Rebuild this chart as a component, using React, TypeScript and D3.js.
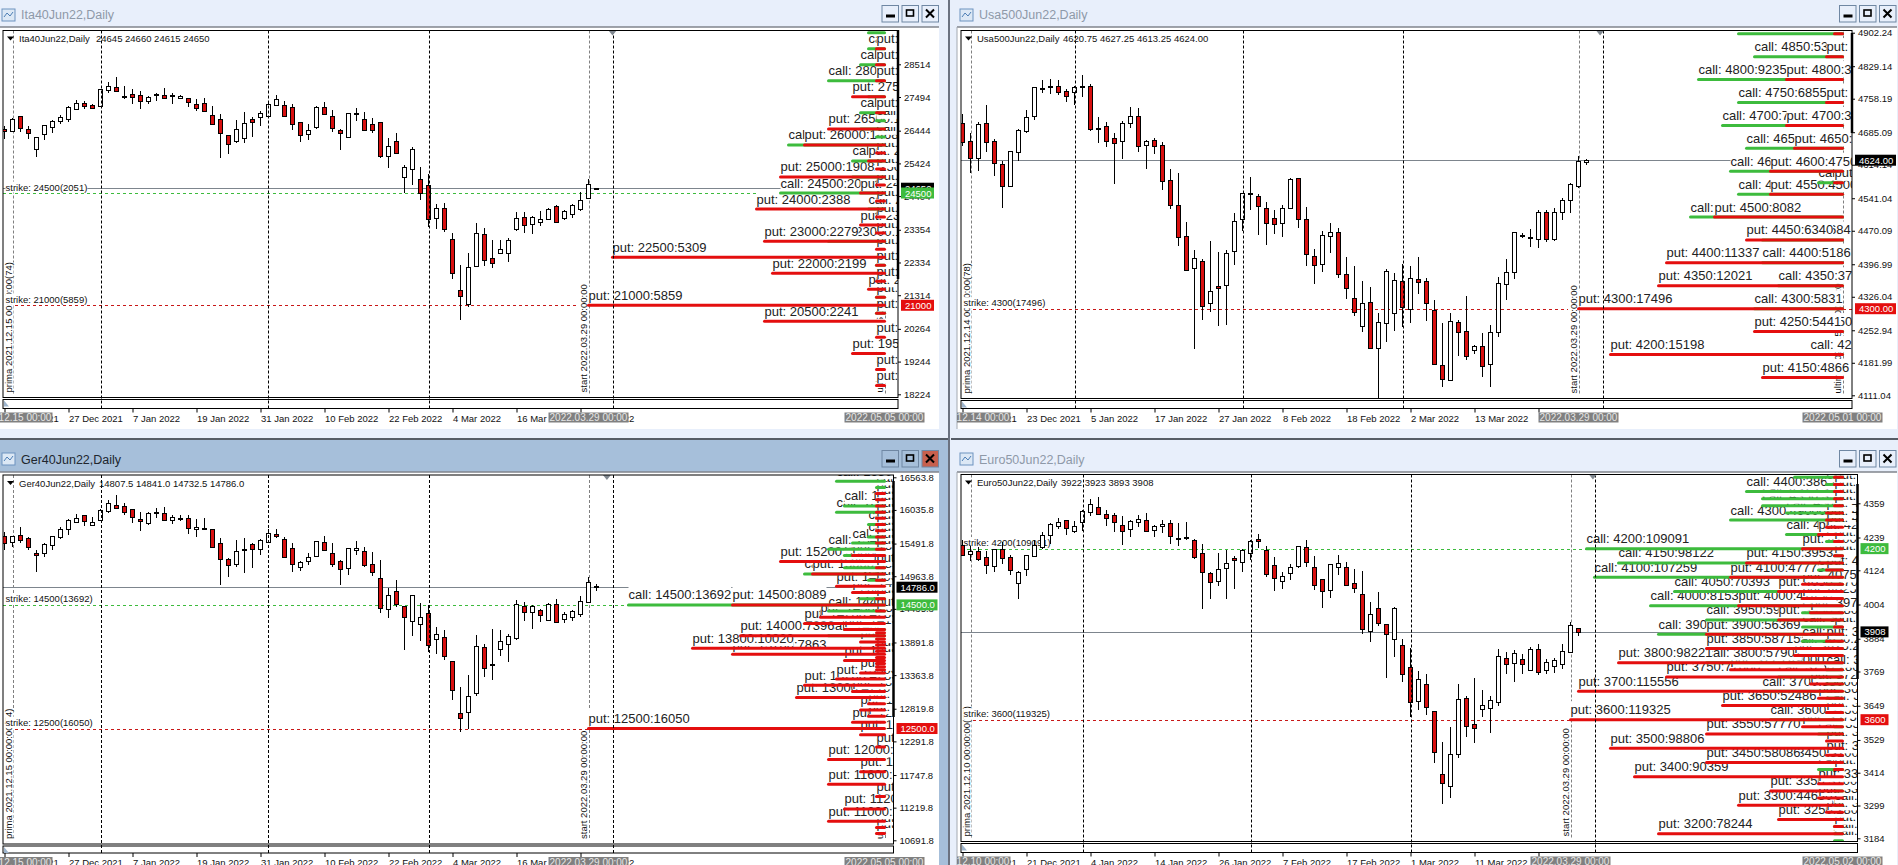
import { useEffect, useRef } from 'react';
import * as d3 from 'd3';

type Candle = [number, number, number, number]; // open, high, low, close
type OptionRow = [number, number, number, number, number]; // strike, call OI, call days, put OI, put days

const itaCandles: Candle[] = [
  [26487,26591,26196,26446],[26446,26830,26414,26799],[26893,26893,26414,26518],[26487,26591,26196,26383],[25884,26238,25635,26238],
  [26352,26633,26155,26612],[26570,26778,26383,26737],[26757,26934,26653,26861],[26820,27215,26716,27194],[27132,27402,27090,27298],
  [27298,27371,27121,27225],[27236,27288,27163,27163],[27225,27734,27225,27734],[27724,27953,27631,27849],[27797,28109,27662,27672],
  [27537,27838,27433,27530],[27599,27734,27277,27485],[27547,27672,27132,27381],[27381,27527,27277,27506],[27579,27610,27371,27589],
  [27547,27766,27475,27475],[27547,27610,27287,27540],[27475,27568,27454,27537],[27454,27475,27173,27350],[27267,27423,27069,27163],
  [27298,27464,27028,27069],[26944,27204,26633,26664],[26799,26965,25604,26383],[26300,26321,25728,26040],[26134,26778,26071,26487],
  [26207,27028,26071,26674],[26799,26872,26248,26726],[26861,27069,26591,26986],[26913,27298,26903,27267],[27256,27547,27236,27423],
  [27236,27360,26882,26913],[27173,27277,26477,26664],[26705,26726,26103,26300],[26331,26643,26155,26477],[26570,27204,26508,27194],
  [27173,27329,26934,26976],[26893,27090,26414,26518],[26456,26498,25843,26362],[26258,26986,26238,26986],[26975,27163,26747,26990],
  [26799,27028,26446,26477],[26643,26840,26383,26477],[26705,26726,25604,25666],[25645,26206,25292,25957],[26113,26373,25728,25760],
  [25011,25365,24491,25302],[25240,25936,24751,25864],[24928,25313,24284,24512],[24741,25094,23452,23702],[23733,24149,23379,24024],
  [24024,24190,23296,23390],[23057,23244,21831,22018],[21467,22257,20542,21280],[21051,22631,20958,22184],[22236,23556,22236,23244],
  [23213,23411,22226,22423],[22465,23036,22174,22309],[22641,23036,22600,22745],[22641,23099,22361,23045],[23390,23909,23317,23712],
  [23764,23909,23265,23494],[23525,23795,23234,23754],[23587,23941,23473,23681],[23681,24024,23660,23993],[24107,24117,23577,23608],
  [23733,23972,23660,23930],[23858,24159,23722,24117],[24013,24533,23951,24273],[24356,24928,24304,24772],[24645,24660,24615,24650],
];

const usaCandles: Candle[] = [
  [4704.4,4724.1,4655.7,4664.4],[4665.2,4682.6,4596.8,4629.5],[4629.5,4707.3,4600.4,4703],[4704.4,4744.4,4641.9,4664.4],[4665.2,4669.5,4589.5,4618.6],
  [4615,4621.5,4520.5,4568.4],[4567.7,4643.4,4566.3,4643.4],[4641.2,4691.3,4622.3,4689.2],[4688.4,4732.8,4684,4717.5],[4719.7,4784.4,4711.7,4783.7],
  [4780.8,4799,4771.3,4781.5],[4783.7,4800.4,4768.4,4785.2],[4785.2,4799,4766.3,4773.5],[4774.2,4778.6,4751.7,4764.8],[4772,4786.6,4744.4,4784.4],
  [4785,4809.9,4762.6,4785.2],[4785.9,4790.2,4687.7,4692.8],[4693.5,4717.5,4662.3,4693],[4697.9,4707.3,4653.5,4666.6],[4671.7,4682.6,4572.8,4662.3],
  [4665.2,4708.8,4626.6,4704.4],[4705.9,4739.3,4695,4719.7],[4719.7,4737.9,4641.9,4654.3],[4656.4,4667.4,4604.8,4665.2],[4667.4,4671.7,4638.3,4654.3],
  [4656.4,4663,4559,4577.9],[4580.1,4604.8,4518.3,4525.5],[4525.5,4595.4,4436.8,4455.7],[4457.9,4488.5,4383.7,4383.7],[4388.1,4427.4,4212.8,4409.9],
  [4403.4,4407.7,4275.4,4305.2],[4311.7,4447,4293.6,4338],[4348.8,4423.7,4263,4344.5],[4351,4427.4,4265.2,4420.8],[4425.2,4508.1,4395.4,4490.6],
  [4495,4553.2,4470.3,4551.7],[4551.7,4586.6,4515.4,4549.5],[4545.2,4549.5,4460.8,4523.4],[4519,4532.1,4439,4486.3],[4497.2,4515.4,4463,4484.1],
  [4486.3,4525.5,4456.5,4519],[4519,4584.5,4518.3,4582.3],[4584.5,4584.5,4476.1,4495],[4495,4521.2,4393.2,4418.6],[4414.3,4429.6,4353.9,4394.7],
  [4396.8,4469.5,4380.1,4460.1],[4457.9,4486.3,4421.5,4466.6],[4466.6,4475.4,4367.8,4375],[4375,4412.8,4321.2,4344.5],[4322.7,4393.2,4284.8,4292.1],
  [4261.6,4360.5,4250,4311.7],[4313.9,4347.4,4212.8,4215],[4215,4290.7,4104.5,4270.3],[4268.1,4385.9,4228.1,4381.6],[4290,4377.2,4252.1,4361.9],
  [4359.7,4396.8,4260.8,4303],[4298.7,4393.2,4268.8,4366.3],[4364.1,4412.8,4332.9,4357.5],[4359.7,4366.3,4273.2,4311.7],[4296.5,4319,4177.9,4178.7],
  [4177.9,4268.8,4129.2,4145.9],[4143.8,4290.7,4143,4272.5],[4270.3,4274.7,4197.6,4248.5],[4250.7,4327.7,4188.8,4197.6],[4209.2,4220.8,4201.9,4217.9],
  [4217.9,4247,4151,4175.8],[4178.7,4264.5,4129.2,4248.5],[4248.5,4369.2,4239,4355.4],[4353.2,4407.7,4319,4379.4],[4379.4,4466.6,4364.8,4466.6],
  [4457.9,4464.4,4454.3,4460.8],[4453.6,4473.9,4435,4456.5],[4451.4,4515.4,4432.5,4511],[4511,4515.4,4444.8,4451.4],[4451.4,4519,4447,4510.3],
  [4510.3,4540.8,4493.5,4537.2],[4536.5,4575,4509.5,4572.1],[4568.4,4633.2,4562.6,4621.5],[4620.75,4627.25,4613.25,4624],
];

const gerCandles: Candle[] = [
  [15609,15679,15394,15501],[15512,15609,15437,15609],[15625,15760,15507,15555],[15577,15593,15394,15442],[15334,15383,15032,15313],
  [15345,15501,15275,15491],[15464,15620,15388,15609],[15599,15766,15572,15723],[15723,15884,15636,15868],[15841,15971,15820,15911],
  [15949,15954,15776,15852],[15798,15922,15776,15836],[15868,16046,15852,16041],[16024,16192,15987,16143],[16111,16272,16057,16068],
  [16095,16143,15949,15998],[16046,16057,15830,15927],[15884,16003,15701,15852],[15830,16002,15798,15981],[15981,16068,15906,15998],
  [15981,16084,15863,15879],[15879,15949,15814,15917],[15911,15949,15863,15909],[15911,15949,15652,15749],[15723,15884,15604,15755],
  [15749,15906,15706,15747],[15723,15723,15426,15442],[15496,15582,14827,15248],[15237,15259,14957,15151],[15167,15555,15113,15367],
  [15383,15582,15022,15399],[15480,15501,15097,15410],[15410,15561,15307,15555],[15523,15723,15518,15658],[15652,15723,15577,15620],
  [15561,15593,15275,15280],[15415,15501,15038,15156],[15108,15205,15054,15189],[15216,15340,15151,15270],[15286,15534,15275,15528],
  [15512,15609,15367,15383],[15334,15501,15108,15167],[15205,15226,14827,15075],[15092,15426,14989,15415],[15383,15534,15313,15415],
  [15367,15437,15119,15151],[15156,15350,14973,15027],[14930,15226,14369,14445],[14428,14774,14288,14655],[14730,14898,14461,14509],
  [14477,14477,13771,14299],[14234,14655,14002,14655],[14186,14526,13916,14299],[14364,14493,13738,13857],[13943,14137,13701,14024],
  [13975,14094,13614,13668],[13598,13598,12962,13118],[12746,13167,12444,12665],[12762,13361,12487,13021],[13070,14008,13032,13830],
  [13814,13868,13334,13485],[13523,14110,13285,13539],[13781,14094,13674,13911],[13862,14029,13577,13992],[13970,14574,13938,14509],
  [14477,14542,14240,14380],[14380,14504,14116,14477],[14412,14428,14224,14331],[14250,14536,14234,14509],[14509,14590,14202,14218],
  [14267,14385,14202,14348],[14305,14423,14240,14396],[14348,14639,14310,14558],[14542,14946,14526,14865],[14807.5,14841,14732.5,14786],
];

const euroCandles: Candle[] = [
  [4212,4229,4174,4177],[4180,4208,4156,4191],[4191,4206,4156,4163],[4170,4191,4111,4144],[4138,4198,4118,4198],
  [4198,4223,4147,4166],[4170,4177,4109,4124],[4079,4121,4025,4117],[4128,4179,4104,4177],[4173,4229,4170,4212],
  [4206,4259,4200,4247],[4247,4291,4218,4288],[4281,4308,4268,4292],[4299,4302,4249,4271],[4263,4297,4256,4278],
  [4292,4334,4263,4331],[4327,4374,4313,4356],[4345,4381,4319,4320],[4320,4334,4280,4306],[4317,4324,4260,4292],
  [4282,4315,4214,4261],[4268,4299,4241,4296],[4292,4317,4275,4303],[4299,4325,4257,4261],[4264,4282,4241,4278],
  [4278,4299,4255,4285],[4289,4299,4218,4243],[4236,4290,4209,4235],[4242,4294,4229,4240],[4229,4233,4165,4169],
  [4184,4216,3990,4117],[4114,4117,4025,4082],[4086,4185,4068,4128],[4131,4194,4025,4149],[4166,4174,4060,4159],
  [4152,4198,4118,4194],[4184,4229,4159,4226],[4233,4250,4202,4226],[4194,4208,4101,4110],[4142,4171,4053,4096],
  [4086,4118,4060,4103],[4114,4145,4090,4135],[4138,4208,4133,4208],[4205,4230,4137,4152],[4135,4173,4056,4071],
  [4093,4095,3993,4050],[4054,4145,4028,4145],[4135,4178,4108,4149],[4135,4152,4069,4074],[4079,4128,4045,4063],
  [4040,4121,3902,3917],[3910,4012,3874,3970],[3991,4048,3930,3938],[3935,3935,3746,3900],[3882,3994,3821,3991],
  [3861,3882,3732,3759],[3784,3852,3609,3661],[3665,3771,3635,3742],[3724,3759,3617,3644],[3630,3630,3448,3486],
  [3409,3522,3306,3377],[3367,3575,3326,3479],[3479,3724,3464,3672],[3675,3682,3540,3577],[3584,3745,3519,3572],
  [3637,3703,3609,3651],[3640,3682,3554,3668],[3661,3847,3648,3822],[3815,3836,3759,3794],[3798,3844,3732,3833],
  [3812,3829,3759,3794],[3773,3854,3772,3847],[3847,3866,3757,3766],[3773,3812,3759,3801],[3787,3815,3764,3808],
  [3794,3865,3777,3840],[3836,3943,3835,3931],[3922,3923,3893,3908],
];

const itaOptions: OptionRow[] = [
  [29500,320,2,0,0],[29000,310,2,140,1],[28500,470,3,150,1],[28000,1090,7,130,1],[27500,300,2,620,4],[27000,460,3,160,1],
  [26750,150,1,0,0],[26500,460,3,1090,7],[26250,140,1,0,0],[26000,1850,12,1468,10],[25750,0,0,150,1],[25500,610,4,300,2],
  [25250,0,0,160,1],[25000,620,4,1908,13],[24750,0,0,150,1],[24500,2051,13,450,3],[24250,0,0,140,1],[24000,300,2,2388,16],
  [23750,0,0,150,1],[23500,0,0,460,3],[23250,0,0,150,1],[23000,1090,7,2279,15],[22750,0,0,150,1],[22500,0,0,5309,34],
  [22250,140,1,150,1],[22000,0,0,2199,14],[21750,0,0,150,1],[21500,0,0,310,2],[21250,150,1,140,1],[21000,0,0,5859,37],
  [20750,150,1,150,1],[20500,0,0,2241,15],[20000,0,0,130,1],[19500,0,0,620,4],[19000,0,0,130,1],[18500,0,0,140,1],
];

const usaOptions: OptionRow[] = [
  [4900,6800,13,400,1],[4850,5345,11,900,2],[4800,9235,18,3600,7],[4750,6855,13,1000,2],[4700,7600,15,3500,7],[4650,6100,12,3100,6],
  [4600,7200,14,4750,9],[4575,1500,3,500,1],[4550,6700,13,4500,9],[4500,9800,19,8082,16],[4450,5684,10,6340,12],[4400,5186,10,11337,22],
  [4350,3740,8,12021,23],[4300,5831,11,17496,33],[4250,5041,8,5441,11],[4200,2200,4,15198,29],[4150,0,0,4866,10],
];

const gerOptions: OptionRow[] = [
  [16500,2580,6,0,0],[16400,430,1,0,0],[16300,0,0,430,1],[16200,0,0,410,1],[16100,2150,5,420,1],[16000,2560,6,430,1],
  [15900,0,0,410,1],[15800,860,2,420,1],[15700,0,0,410,1],[15600,850,2,430,1],[15500,1720,4,420,1],[15400,3000,7,410,1],
  [15300,2150,5,1720,4],[15200,0,0,5600,13],[15100,2140,5,430,1],[15000,4270,10,3850,9],[14900,850,2,420,1],[14800,0,0,2570,6],
  [14700,0,0,1710,4],[14600,1280,3,430,1],[14500,13692,32,8089,19],[14400,3000,7,420,1],[14300,0,0,3420,8],[14200,0,0,4280,10],
  [14100,2140,5,2130,5],[14050,0,0,430,1],[14000,3000,7,7396,18],[13950,0,0,430,1],[13900,0,0,1280,3],[13850,0,0,430,1],
  [13800,0,0,10020,24],[13750,0,0,430,1],[13700,0,0,7863,19],[13650,0,0,430,1],[13600,0,0,2140,5],[13550,0,0,430,1],
  [13500,0,0,420,1],[13450,0,0,430,1],[13400,0,0,1280,3],[13300,0,0,2560,6],[13200,0,0,4280,10],[13100,0,0,1710,4],
  [13000,0,0,4710,11],[12900,0,0,860,2],[12800,0,0,1290,3],[12700,0,0,860,2],[12600,0,0,1710,4],[12500,0,0,16050,37],
  [12400,0,0,1280,3],[12200,0,0,430,1],[12000,0,0,3000,7],[11800,0,0,1290,3],[11600,0,0,3010,7],[11400,0,0,420,1],
  [11200,0,0,2150,5],[11000,0,0,2990,7],[10900,0,0,420,1],[10800,0,0,410,1],
];

const euroOptions: OptionRow[] = [
  [4450,21000,6,3600,1],[4425,7000,2,3500,1],[4400,38650,12,3600,1],[4375,35000,10,3400,1],[4350,35200,10,3500,1],[4325,24000,7,7000,2],
  [4300,49000,14,7100,2],[4275,0,0,7000,2],[4250,24500,7,10600,3],[4225,7200,2,3500,1],[4200,109091,32,17800,5],[4175,3500,1,3400,1],
  [4150,98122,28,39532,12],[4125,10500,3,7000,2],[4100,107259,31,47773,14],[4075,7100,2,17600,5],[4050,70393,21,27000,8],[4025,7000,2,17500,5],
  [4000,81533,24,47450,13],[3975,17500,5,14000,4],[3950,59300,17,28000,8],[3925,17400,5,3500,1],[3900,80000,23,56369,17],[3875,17600,5,7000,2],
  [3850,21000,6,58715,17],[3825,7000,2,21000,6],[3800,57907,17,98221,28],[3775,7000,2,49000,14],[3750,28000,8,77000,22],[3725,7000,2,14000,4],
  [3700,35000,10,115556,33],[3675,7000,2,10500,3],[3650,7000,2,52486,15],[3625,7000,2,7000,2],[3600,31500,9,119325,34],[3575,3500,1,17500,5],
  [3550,10500,3,57770,17],[3525,0,0,7000,2],[3500,0,0,98806,29],[3475,0,0,7000,2],[3450,31000,9,58086,17],[3425,10500,3,3500,1],
  [3400,0,0,90359,26],[3375,0,0,10500,3],[3350,3500,1,31000,9],[3325,0,0,10500,3],[3300,3500,1,44630,13],[3275,0,0,7000,2],
  [3250,3500,1,28000,8],[3225,3500,1,3400,1],[3200,3500,1,78244,23],[3175,3500,1,0,0],
];

const itaPriceTicks = [28514,27494,26444,25424,24404,23354,22334,21314,20264,19244,18224];
const usaPriceTicks = [4902.24,4829.14,4758.19,4685.09,4614.14,4541.04,4470.09,4396.99,4326.04,4252.94,4181.99,4111.04];
const gerPriceTicks = [16563.8,16035.8,15491.8,14963.8,14435.8,13891.8,13363.8,12819.8,12291.8,11747.8,11219.8,10691.8];
const euroPriceTicks = [4359,4239,4124,4004,3884,3769,3649,3529,3414,3299,3184];

const itaDates = ['15 Dec 2021','27 Dec 2021','7 Jan 2022','19 Jan 2022','31 Jan 2022','10 Feb 2022','22 Feb 2022','4 Mar 2022','16 Mar 2022','28 Mar 2022'];
const usaDates = ['14 Dec 2021','23 Dec 2021','5 Jan 2022','17 Jan 2022','27 Jan 2022','8 Feb 2022','18 Feb 2022','2 Mar 2022','13 Mar 2022','23 Mar 2022'];
const gerDates = itaDates;
const euroDates = ['10 Dec 2021','21 Dec 2021','4 Jan 2022','14 Jan 2022','26 Jan 2022','7 Feb 2022','17 Feb 2022','1 Mar 2022','11 Mar 2022','23 Mar 2022'];

const panels = [
  { title: 'Ita40Jun22,Daily', active: false, win: [0, 0, 939, 429], frame: [3, 30.5, 898, 397.5], strip: [399.5, 408.5],
    candles: itaCandles, options: itaOptions, ticks: itaPriceTicks, dates: itaDates, digits: 0, ohlcX: 93,
    ohlc: '24645 24660 24615 24650', strikes: [[24500, 2051, 'call'], [21000, 5859, 'put']], grid: [12, 33, 53, 76],
    startIdx: 73, primaText: 'prima 2021.12.15 00:00:00(74)', startText: 'start 2022.03.29 00:00:00', ultimaText: 'ultima 2022.05.05 00:00:00',
    tags: ['2021.12.15 00:00', '2022.03.29 00:00', '2022.05.05 00:00'], priceTop: 64.3, priceBottom: 394.3, x0: 4.5, marker: 76, thick: [30, 279], tagWidth: 33 },
  { title: 'Usa500Jun22,Daily', active: false, win: [957, 0, 1897, 429], frame: [961, 30.5, 1852, 398.5], strip: [400.5, 408.5],
    candles: usaCandles, options: usaOptions, ticks: usaPriceTicks, dates: usaDates, digits: 2, ohlcX: 102,
    ohlc: '4620.75 4627.25 4613.25 4624.00', strikes: [[4300, 17496, 'put']], grid: [14, 35, 55, 80],
    startIdx: 77, primaText: 'prima 2021.12.14 00:00:00(78)', startText: 'start 2022.03.29 00:00:00', ultimaText: 'ultima 2022.05.01 00:00:00',
    tags: ['2021.12.14 00:00', '2022.03.29 00:00', '2022.05.01 00:00'], priceTop: 32.7, priceBottom: 395.3, x0: 962.5, marker: 79.7, thick: [33, 133], tagWidth: 41 },
  { title: 'Ger40Jun22,Daily', active: true, win: [0, 472, 939, 865], frame: [3, 475, 893.5, 844], strip: [846, 853],
    candles: gerCandles, options: gerOptions, ticks: gerPriceTicks, dates: gerDates, digits: 1, ohlcX: 96,
    ohlc: '14807.5 14841.0 14732.5 14786.0', strikes: [[14500, 13692, 'call'], [12500, 16050, 'put']], grid: [12, 33, 53, 76],
    startIdx: 73, primaText: 'prima 2021.12.15 00:00:00(74)', startText: 'start 2022.03.29 00:00:00', ultimaText: 'ultima 2022.05.05 00:00:00',
    tags: ['2021.12.15 00:00', '2022.03.29 00:00', '2022.05.05 00:00'], priceTop: 477.3, priceBottom: 840.3, x0: 4.5, marker: 75.3, thick: [481, 717], tagWidth: 41 },
  { title: 'Euro50Jun22,Daily', active: false, win: [957, 472, 1897, 865], frame: [961, 474.5, 1857.5, 841.5], strip: [843.5, 852.5],
    candles: euroCandles, options: euroOptions, ticks: euroPriceTicks, dates: euroDates, digits: 0, ohlcX: 100,
    ohlc: '3922 3923 3893 3908', strikes: [[4200, 109091, 'call'], [3600, 119325, 'put']], grid: [15, 36, 56, 79],
    startIdx: 76, primaText: 'prima 2021.12.10 00:00:00(77)', startText: 'start 2022.03.29 00:00:00', ultimaText: 'ultima 2022.05.02 00:00:00',
    tags: ['2021.12.10 00:00', '2022.03.29 00:00', '2022.05.02 00:00'], priceTop: 503.3, priceBottom: 838.3, x0: 962.5, marker: 78.8, thick: [484, 679], tagWidth: 28 },
];

const GREEN = '#3DBB3D';
const RED = '#E40E0E';
const SMALL_FONT = '"Liberation Sans", sans-serif';
const ANCHOR_IDX = 110; // expiry bar, option bars grow left from here

const App = () => {
  const svgRef = useRef<SVGSVGElement | null>(null);

  useEffect(() => {
    if (!svgRef.current) return;
    const svg = d3.select(svgRef.current);
    svg.selectAll('*').remove();
    svg.style('font-family', SMALL_FONT);

    // desktop background and separators
    svg.append('rect').attr('width', 1898).attr('height', 865).attr('fill', '#E8EFFB');
    svg.append('rect').attr('x', 0).attr('y', 440).attr('width', 948).attr('height', 425).attr('fill', '#A6BFDA');
    svg.append('rect').attr('x', 0).attr('y', 438).attr('width', 950).attr('height', 2).attr('fill', '#555c66');
    svg.append('rect').attr('x', 951).attr('y', 438).attr('width', 947).attr('height', 2).attr('fill', '#555c66');
    svg.append('rect').attr('x', 948).attr('y', 0).attr('width', 2).attr('height', 865).attr('fill', '#6b7280');

    panels.forEach((p, pi) => {
      const [wl, wt, wr, wb] = p.win;
      const [fl, ft, fr, fb] = p.frame;
      const root = svg.append('g');

      // window client area
      root.append('rect').attr('x', wl).attr('y', wt + (wt === 0 ? 27 : 0)).attr('width', wr - wl)
        .attr('height', wb - wt - (wt === 0 ? 27 : 0)).attr('fill', '#fff');
      root.append('line').attr('x1', wl).attr('x2', wr).attr('y1', (wt === 0 ? 27 : wt)).attr('y2', (wt === 0 ? 27 : wt))
        .attr('stroke', '#80858c').attr('stroke-width', 1.5);
      if (wl > 0) root.append('line').attr('x1', wl).attr('x2', wl).attr('y1', (wt === 0 ? 27 : wt)).attr('y2', wb)
        .attr('stroke', '#a3a8b0');

      // title bar
      const titleY = wt === 0 ? 19 : 464;
      const iconY = wt === 0 ? 9 : 453;
      const iconX = wl === 0 ? 2 : 960;
      root.append('rect').attr('x', iconX).attr('y', iconY).attr('width', 13).attr('height', 12).attr('fill', '#DCE8F5').attr('stroke', '#6D93BF');
      root.append('path').attr('d', `M${iconX + 2},${iconY + 8}l3,-4l3,3l3,-4`).attr('fill', 'none').attr('stroke', '#4E7FB5');
      root.append('text').attr('x', iconX + 19).attr('y', titleY).attr('font-size', 12.5)
        .attr('fill', p.active ? '#20262e' : '#8E99A8').text(p.title);

      // window buttons
      const btnY = wt === 0 ? 5.5 : 450.5;
      const btnX = wl === 0 ? [882, 902, 922] : [1839.5, 1859.5, 1879.5];
      btnX.forEach((bx, bi) => {
        root.append('rect').attr('x', bx).attr('y', btnY).attr('width', 16.5).attr('height', 16.5)
          .attr('fill', p.active && bi === 2 ? '#C7604E' : p.active ? '#A6BFDA' : '#E8EFFB').attr('stroke', '#6F87A3');
        if (bi === 0) root.append('rect').attr('x', bx + 4).attr('y', btnY + 9).attr('width', 9).attr('height', 3).attr('fill', '#000');
        if (bi === 1) root.append('rect').attr('x', bx + 4.5).attr('y', btnY + 4.5).attr('width', 7).attr('height', 6).attr('fill', 'none').attr('stroke', '#000').attr('stroke-width', 1.6);
        if (bi === 2) root.append('path').attr('d', `M${bx + 4},${btnY + 4}l8,8M${bx + 12},${btnY + 4}l-8,8`).attr('stroke', '#000').attr('stroke-width', 2);
      });

      // scales
      const x = d3.scaleLinear().domain([0, ANCHOR_IDX]).range([p.x0, p.x0 + ANCHOR_IDX * 8]);
      const y = d3.scaleLinear()
        .domain([p.ticks[p.ticks.length - 1], p.ticks[0]])
        .range([p.priceBottom, p.priceTop]);
      const fmt = (v: number) => v.toFixed(p.digits);

      const clipId = `clip-${pi}`;
      svg.append('clipPath').attr('id', clipId).append('rect')
        .attr('x', fl).attr('y', ft).attr('width', fr - fl).attr('height', fb - ft);
      const stripClipId = `strip-clip-${pi}`;
      svg.append('clipPath').attr('id', stripClipId).append('rect')
        .attr('x', wl).attr('y', fb + 6).attr('width', wr - wl).attr('height', 40);

      const chart = root.append('g').attr('clip-path', `url(#${clipId})`);

      // time grid runs into the strip below the chart
      const grid = root.append('g');
      p.grid.forEach(i => {
        grid.append('line').attr('x1', Math.round(x(i)) + 0.5).attr('x2', Math.round(x(i)) + 0.5)
          .attr('y1', ft).attr('y2', p.strip[1]).attr('stroke', '#000').attr('stroke-dasharray', '3,2');
      });

      // prima / start / expiry lines
      [1, p.startIdx, ANCHOR_IDX].forEach(i => {
        chart.append('line').attr('x1', Math.round(x(i)) + 0.5).attr('x2', Math.round(x(i)) + 0.5)
          .attr('y1', ft).attr('y2', fb - 4).attr('stroke', '#808080').attr('stroke-dasharray', '3,2');
      });

      const rotatedLabel = (px: number, text: string, boxed: boolean) => {
        const g = chart.append('g').attr('transform', `translate(${px},${fb - 5}) rotate(-90)`);
        const box = g.append('rect').attr('fill', boxed ? '#fff' : 'none');
        const t = g.append('text').attr('x', 0).attr('y', 0).attr('font-size', 9.5).attr('fill', '#111').text(text);
        const b = (t.node() as SVGTextElement).getBBox();
        box.attr('x', b.x).attr('y', b.y).attr('width', b.width).attr('height', b.height);
      };

      // current price line and strike lines
      const lastClose = p.candles[p.candles.length - 1][3];
      chart.append('line').attr('x1', fl).attr('x2', fr).attr('y1', Math.round(y(lastClose)) + 0.5).attr('y2', Math.round(y(lastClose)) + 0.5)
        .attr('stroke', '#7D858D');
      (p.strikes as [number, number, string][]).forEach(([s, , kind]) => {
        chart.append('line').attr('x1', fl).attr('x2', fr).attr('y1', Math.round(y(s)) + 0.5).attr('y2', Math.round(y(s)) + 0.5)
          .attr('stroke', kind === 'call' ? GREEN : '#C81818').attr('stroke-dasharray', '3,3');
      });

      rotatedLabel(x(1) - 1, p.primaText, true);
      rotatedLabel(x(p.startIdx) - 1.5, p.startText, true);
      rotatedLabel(x(ANCHOR_IDX) - 2, p.ultimaText, false);

      // option labels: white box behind each, higher strikes cover lower ones
      const labels = chart.append('g').attr('font-size', 13).attr('fill', '#222');
      const addLabel = (left: number, barY: number, text: string) => {
        const box = labels.append('rect').attr('fill', '#fff');
        const t = labels.append('text').attr('x', left).attr('y', barY - 5.5).text(text);
        const w = (t.node() as SVGTextElement).getBBox().width;
        box.attr('x', left).attr('y', barY - 18.5).attr('width', w).attr('height', 16.5);
      };
      [...p.options].reverse().forEach(([strike, callOi, callDays, putOi, putDays]) => {
        const by = y(strike);
        if (callDays > 0) addLabel(x(ANCHOR_IDX - callDays), by, `call: ${strike}:${callOi}`);
        if (putDays > 0) addLabel(x(ANCHOR_IDX - putDays), by, `put: ${strike}:${putOi}`);
      });

      // option bars, put over call
      const bars = chart.append('g').attr('stroke-width', 3).attr('stroke-linecap', 'round');
      p.options.forEach(([strike, , callDays]) => {
        if (callDays > 0) bars.append('line').attr('x1', x(ANCHOR_IDX - callDays)).attr('x2', x(ANCHOR_IDX))
          .attr('y1', y(strike)).attr('y2', y(strike)).attr('stroke', GREEN);
      });
      p.options.forEach(([strike, , , , putDays]) => {
        if (putDays > 0) bars.append('line').attr('x1', x(ANCHOR_IDX - putDays)).attr('x2', x(ANCHOR_IDX))
          .attr('y1', y(strike)).attr('y2', y(strike)).attr('stroke', RED);
      });

      // strike captions
      (p.strikes as [number, number, string][]).forEach(([s, oi]) => {
        const box = chart.append('rect').attr('fill', '#fff');
        const t = chart.append('text').attr('x', fl + 2.5).attr('y', y(s) - 2.5).attr('font-size', 9.5).attr('fill', '#111')
          .text(`strike: ${s}(${oi})`);
        const b = (t.node() as SVGTextElement).getBBox();
        box.attr('x', b.x).attr('y', b.y).attr('width', b.width).attr('height', b.height);
      });

      // candles
      const candles = chart.append('g').attr('shape-rendering', 'crispEdges');
      p.candles.forEach(([o, h, l, c], i) => {
        const cx = x(i);
        candles.append('line').attr('x1', cx).attr('x2', cx).attr('y1', y(h)).attr('y2', y(l)).attr('stroke', '#000');
        const top = Math.round(y(Math.max(o, c))) + 0.5;
        const bottom = Math.round(y(Math.min(o, c))) + 0.5;
        candles.append('rect').attr('x', cx - 2).attr('y', top).attr('width', 4).attr('height', Math.max(bottom - top, 1))
          .attr('fill', c < o ? '#D80F0F' : '#fff').attr('stroke', '#000');
      });

      // header
      root.append('path').attr('d', `M${fl + 4},${ft + 6}h7l-3.5,4z`).attr('fill', '#000');
      root.append('text').attr('x', fl + 16).attr('y', ft + 11.5).attr('font-size', 9.5).attr('fill', '#111').text(p.title);
      root.append('text').attr('x', fl + p.ohlcX).attr('y', ft + 11.5).attr('font-size', 9.5).attr('fill', '#111').text(p.ohlc);

      // top marker
      root.append('path').attr('d', `M${x(p.marker) - 4},${ft}h8l-4,5z`).attr('fill', '#808890');

      // frames
      root.append('rect').attr('x', fl).attr('y', ft).attr('width', fr - fl).attr('height', fb - ft)
        .attr('fill', 'none').attr('stroke', '#000');
      root.append('rect').attr('x', fl).attr('y', p.strip[0]).attr('width', fr - fl).attr('height', p.strip[1] - p.strip[0])
        .attr('fill', 'none').attr('stroke', '#000');
      root.append('path').attr('d', `M${fl + 1},${p.strip[0] + 1}v6l5,0z`).attr('fill', '#9DB4CC');
      root.append('line').attr('x1', fr).attr('x2', fr).attr('y1', p.thick[0]).attr('y2', p.thick[1])
        .attr('stroke', '#000').attr('stroke-width', 2.5);

      // price axis
      const priceAxis = d3.axisRight(y).tickValues(p.ticks).tickSize(3).tickPadding(3).tickFormat(v => fmt(Number(v)));
      const yAxisG = root.append('g').attr('transform', `translate(${fr},0)`).call(priceAxis);
      yAxisG.select('.domain').remove();
      yAxisG.selectAll('text').attr('font-size', 9.5).attr('font-family', SMALL_FONT).attr('fill', '#111');
      yAxisG.selectAll('line').attr('stroke', '#000');

      // time axis, one label per 8 bars
      const dateIdx = p.dates.map((_, i) => i * 8);
      const timeAxis = d3.axisBottom(x).tickValues(dateIdx).tickSize(4).tickPadding(0).tickFormat((_, i) => p.dates[i]);
      const xAxisClip = root.append('g').attr('clip-path', `url(#${stripClipId})`);
      const xAxisG = xAxisClip.append('g').attr('transform', `translate(0,${p.strip[1]})`).call(timeAxis);
      xAxisG.select('.domain').remove();
      xAxisG.selectAll('text').attr('font-size', 9.5).attr('font-family', SMALL_FONT).attr('fill', '#111')
        .attr('text-anchor', 'start').attr('dy', '0.95em');
      xAxisG.selectAll('line').attr('stroke', '#000');

      // price tags
      const axisTag = (price: number, fill: string, label: string) => {
        const tagY = y(price);
        const tagX = fr + 3;
        root.append('rect').attr('x', tagX).attr('y', tagY - 5.5).attr('width', p.tagWidth).attr('height', 11).attr('fill', fill);
        root.append('text').attr('x', tagX + 4).attr('y', tagY + 3.5).attr('font-size', 9.5).attr('fill', '#fff').text(label);
      };
      axisTag(lastClose, '#000', fmt(lastClose));
      (p.strikes as [number, number, string][]).forEach(([s, , kind]) => axisTag(s, kind === 'call' ? GREEN : RED, fmt(s)));

      // time tags, grey boxes over the axis
      [1, p.startIdx, ANCHOR_IDX].forEach((i, ti) => {
        const tagG = root.append('g').attr('clip-path', `url(#${stripClipId})`);
        tagG.append('rect').attr('x', x(i) - 40).attr('y', p.strip[1] + 4).attr('width', 80).attr('height', 10).attr('fill', '#808080');
        tagG.append('text').attr('x', x(i)).attr('y', p.strip[1] + 12.5).attr('text-anchor', 'middle')
          .attr('font-size', 10).attr('fill', '#E6E6E6').text(p.tags[ti]);
      });
    });
  }, []);

  return <svg ref={svgRef} width={1898} height={865} style={{ position: 'fixed', left: 0, top: 0 }} />;
};

export default App;
